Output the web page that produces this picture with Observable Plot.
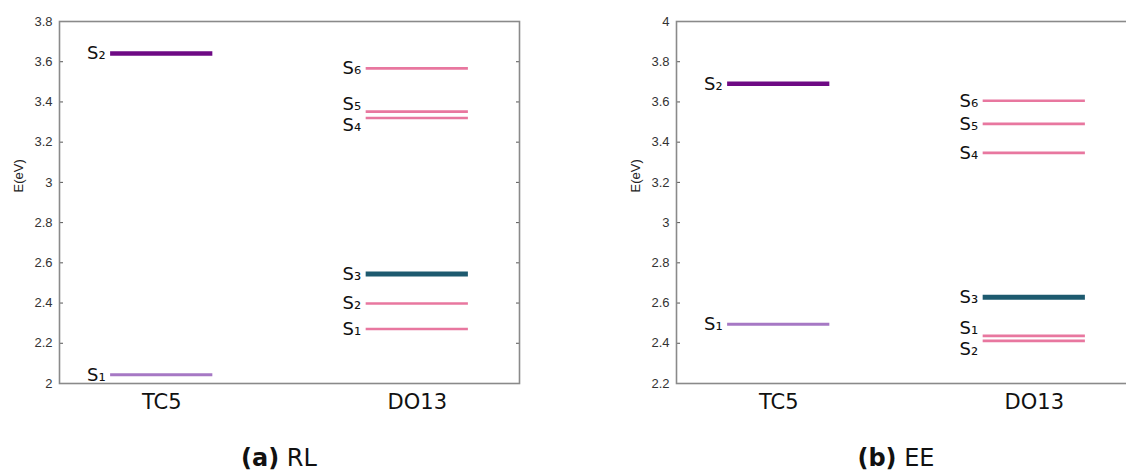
<!DOCTYPE html>
<html>
<head>
<meta charset="utf-8">
<script src="https://cdn.jsdelivr.net/npm/d3@7"></script>
<script src="https://cdn.jsdelivr.net/npm/@observablehq/plot@0.6"></script>
<style>
  html, body { margin: 0; padding: 0; background: #fff; overflow: hidden; }
  #wrap { position: relative; width: 1126px; height: 476px; overflow: hidden; }
  .panel { position: absolute; top: 0; width: 560px; height: 420px; }
  .panel svg { max-width: none !important; }
  .cap { position: absolute; top: 444px; font-family: "DejaVu Sans", sans-serif; font-size: 24px; color: #111; transform: translateX(-50%); white-space: nowrap; }
  .cap b { font-weight: bold; }
</style>
</head>
<body>
<div id="wrap">
  <div class="panel" id="pa" style="left:0px"></div>
  <div class="panel" id="pb" style="left:617px"></div>
  <div class="cap" style="left:279px"><b>(a)</b> RL</div>
  <div class="cap" style="left:896px"><b>(b)</b> EE</div>
</div>
<script>
// ---------- data ----------
const categories = ["TC5", "DO13"];

// (a) RL: excitation energies (eV), states S1..Sn
const rlTC5  = [2.043, 3.641];
const rlDO13 = [2.271, 2.398, 2.545, 3.320, 3.352, 3.567];
const rlTicks = [2, 2.2, 2.4, 2.6, 2.8, 3, 3.2, 3.4, 3.6, 3.8];

// (b) EE
const eeTC5  = [2.494, 3.690];
const eeDO13 = [2.437, 2.412, 2.629, 3.347, 3.491, 3.606];
const eeTicks = [2.2, 2.4, 2.6, 2.8, 3, 3.2, 3.4, 3.6, 3.8, 4];

// ---------- drawing ----------
const SUB = ["₀","₁","₂","₃","₄","₅","₆","₇","₈","₉"];

function levelStyle(cat, state) {
  if (cat === 1 && state === 1) return {color: "#a678c4", w: 3};
  if (cat === 1 && state === 2) return {color: "#6e0a84", w: 4.5};
  if (cat === 2 && state === 3) return {color: "#1d5a6f", w: 5};
  return {color: "#e8779f", w: 2.6};
}

function buildLevels(tc5, do13, minGap) {
  const levels = [];
  [tc5, do13].forEach((arr, ci) => {
    const group = arr.map((e, i) => {
      const s = levelStyle(ci + 1, i + 1);
      return {cat: ci + 1, state: i + 1, e, labelY: e, color: s.color, w: s.w};
    });
    const sorted = group.slice().sort((a, b) => a.e - b.e);
    for (let it = 0; it < 20; it++) {
      for (let k = 1; k < sorted.length; k++) {
        const lo = sorted[k - 1], hi = sorted[k];
        const gap = hi.labelY - lo.labelY;
        if (gap < minGap) {
          const push = (minGap - gap) / 2;
          lo.labelY -= push; hi.labelY += push;
        }
      }
    }
    levels.push(...group);
  });
  return levels;
}

function panel(tc5, do13, ticks) {
  const domain = [ticks[0], ticks[ticks.length - 1]];
  const levels = buildLevels(tc5, do13, 0.104);
  const fmt = d => String(+d.toFixed(1));
  return Plot.plot({
    width: 560, height: 420,
    marginLeft: 59, marginRight: 41, marginTop: 21, marginBottom: 37,
    style: {fontFamily: "'Liberation Sans', Arial, sans-serif", background: "transparent", maxWidth: "none"},
    x: {domain: [0.6, 2.4]},
    y: {domain},
    marks: [
      Plot.axisY({anchor: "left", ticks, tickFormat: fmt, tickSize: -4, tickPadding: 11,
                  fontSize: 13, fill: "#333", stroke: "#555", label: null}),
      Plot.axisY({anchor: "right", ticks, tickFormat: () => "", tickSize: -4, stroke: "#555", label: null}),
      Plot.axisX({ticks: [1, 2], tickFormat: i => categories[i - 1], tickSize: 0, tickPadding: 11,
                  fontSize: 21, fontFamily: "'DejaVu Sans', sans-serif", fill: "#111", label: null}),
      Plot.frame({stroke: "#8a8a8a", strokeWidth: 1.6}),
      Plot.ruleY(levels, {y: "e", x1: d => d.cat - 0.2, x2: d => d.cat + 0.2,
                          stroke: d => d.color, strokeWidth: d => d.w}),
      Plot.text(levels, {x: d => d.cat - 0.2, y: "labelY", text: d => "S" + SUB[d.state],
                         textAnchor: "end", dx: -5, fontSize: 18,
                         fontFamily: "'DejaVu Sans', sans-serif", fill: "#111"}),
      Plot.text(["E(eV)"], {text: d => d, frameAnchor: "left", dx: -41, dy: -10, rotate: -90,
                            fontSize: 13, fill: "#222"})
    ]
  });
}

document.getElementById("pa").appendChild(panel(rlTC5, rlDO13, rlTicks));
document.getElementById("pb").appendChild(panel(eeTC5, eeDO13, eeTicks));
</script>
</body>
</html>
